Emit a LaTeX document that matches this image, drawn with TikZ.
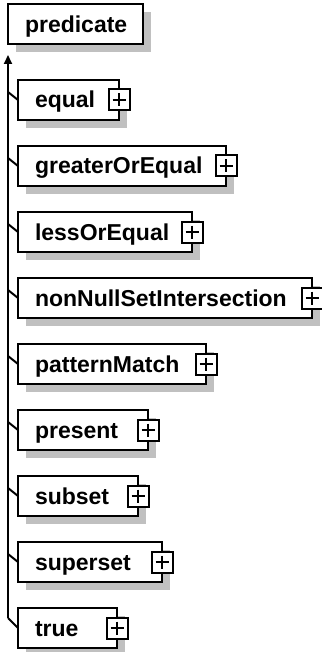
\documentclass[tikz,border=0pt]{standalone}
\usepackage{fontspec}
\setmainfont{Liberation Sans}
\usetikzlibrary{arrows.meta,shadows}
\definecolor{shadowgray}{RGB}{192,192,192}
\begin{document}
\begin{tikzpicture}[x=1pt,y=-1pt,
  ln/.style={line width=2pt, draw=black},
  elem/.style={draw=black, fill=white, line width=2pt, anchor=north west,
    inner xsep=17pt, inner ysep=0pt, outer sep=0pt, minimum height=40pt,
    text height=28pt, text depth=12pt, text width=#1, align=left,
    font=\fontsize{23pt}{27pt}\selectfont\bfseries,
    drop shadow={shadow xshift=8pt, shadow yshift=-8pt, fill=shadowgray, opacity=1}},
  plusbox/.style={draw=black, fill=white, line width=2pt, minimum size=21pt,
    inner sep=0pt, outer sep=0pt,
    path picture={
      \draw[line width=2pt] ([xshift=4pt]path picture bounding box.west) -- ([xshift=-4pt]path picture bounding box.east);
      \draw[line width=2pt] ([yshift=-4pt]path picture bounding box.north) -- ([yshift=4pt]path picture bounding box.south);
    }}]
\useasboundingbox (0,0) rectangle (321,652);

% trunk
\coordinate (tip) at (8,55);
\coordinate (j1) at (8,92);
\coordinate (j2) at (8,158);
\coordinate (j3) at (8,224);
\coordinate (j4) at (8,290);
\coordinate (j5) at (8,356);
\coordinate (j6) at (8,422);
\coordinate (j7) at (8,488);
\coordinate (j8) at (8,554);
\coordinate (j9) at (8,618);

\node[elem=101pt] (pred) at (8,4.5) {predicate};

\node[elem=67pt]  (c1) at (18,80)  {equal};
\node[elem=174pt] (c2) at (18,146) {greaterOrEqual};
\node[elem=140pt] (c3) at (18,212) {lessOrEqual};
\node[elem=260pt] (c4) at (18,278) {nonNullSetIntersection};
\node[elem=154pt] (c5) at (18,344) {patternMatch};
\node[elem=96pt]  (c6) at (18,410) {present};
\node[elem=86pt]  (c7) at (18,476) {subset};
\node[elem=110pt] (c8) at (18,542) {superset};
\node[elem=65pt]  (c9) at (18,608) {true};

\foreach \i in {1,...,9}{
  \node[plusbox] (p\i) at (c\i.east) {};
  \draw[ln] (j\i) -- (c\i.west);
}

\draw[ln,-{Triangle[length=9pt,width=8pt]}] (j9) -- (tip);
\end{tikzpicture}
\end{document}
